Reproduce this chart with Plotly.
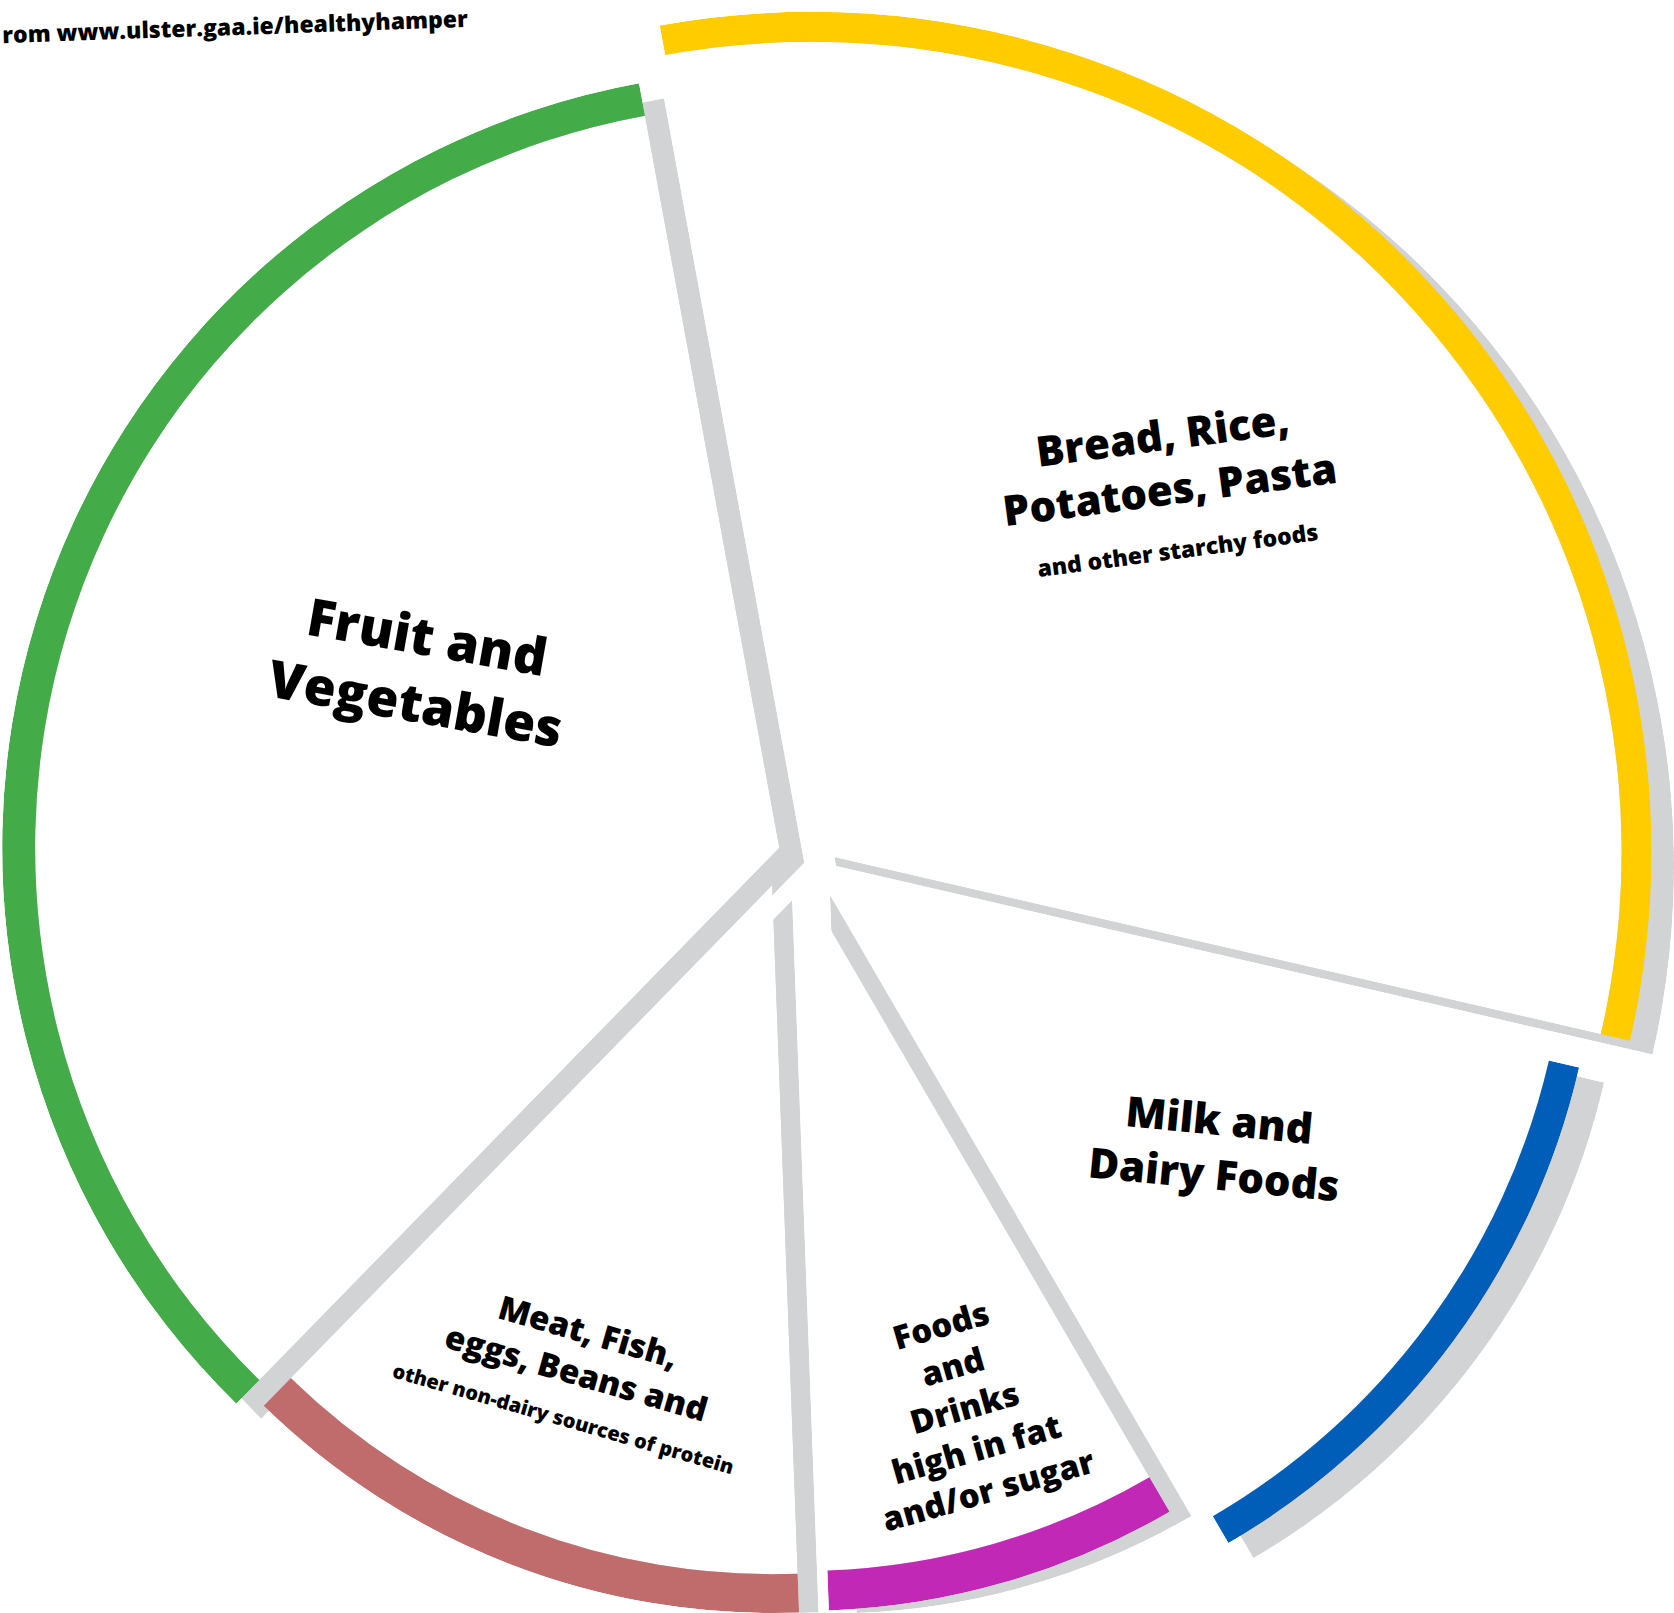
import math
import numpy as np
import plotly.graph_objects as go

W, H = 1674, 1613
S = 1674 / 1568  # preview pixels -> page pixels

# ---------------- data ----------------
# share of the plate for each food group, clockwise from 12 o'clock
food_groups = ["Bread, rice, potatoes, pasta", "Milk and dairy foods",
               "Foods and drinks high in fat and/or sugar",
               "Meat, fish, eggs, beans", "Fruit and vegetables"]
plate_share = [31.5, 13.0, 7.8, 12.9, 34.8]
label_main = ["Bread, Rice,<br>Potatoes, Pasta",
              "Milk and<br>Dairy Foods",
              "Foods<br>and<br>Drinks<br>high in fat<br>and/or sugar",
              "Meat, Fish,<br>eggs, Beans and",
              "Fruit and<br>Vegetables"]
label_small = ["and other starchy foods", "", "",
               "other non-dairy sources of protein", ""]
source_text = "rom www.ulster.gaa.ie/healthyhamper"

# ---------------- styling / layout ----------------
ring_colors = ["#FFCC00", "#005EB8", "#C128B5", "#C06C6C", "#43AC49"]
shadow_color = "#D1D3D4"
start_bearing = 349.6
piece_center = [(760, 798), (800, 843), (751, 824), (724, 829), (730, 794)]  # preview px
piece_radius = [787, 697, 685, 684, 728]                                     # preview px
ring_width = [30, 31, 40, 39, 33]                                            # page px
shadow_shift = (25, 15)                                                      # page px

label_pos = [(1095, 455), (1140, 1073), (903, 1318), (540, 1284), (395, 626)]  # preview px
label_angle = [-7.5, 5.5, -16, 16, 10]
label_size = [42, 42, 33, 33, 52]
small_size = [23, 0, 0, 20, 0]
FONT = "Open Sans"


def sector_bbox(sector):
    s0, s1 = sector
    arc = s1 - s0
    a0 = s0 % 360
    a1 = a0 + arc
    ax0, ay0 = math.cos(math.radians(a0)), math.sin(math.radians(a0))
    ax1, ay1 = math.cos(math.radians(a1)), math.sin(math.radians(a1))
    if (a0 <= 90 and a1 >= 90) or (a0 > 90 and a1 >= 450):
        y1 = 1
    elif ay0 <= 0 and ay1 <= 0:
        y1 = 0
    else:
        y1 = max(ay0, ay1)
    if (a0 <= 180 and a1 >= 180) or (a0 > 180 and a1 >= 540):
        x0 = -1
    elif ax0 >= 0 and ax1 >= 0:
        x0 = 0
    else:
        x0 = min(ax0, ax1)
    if (a0 <= 270 and a1 >= 270) or (a0 > 270 and a1 >= 630):
        y0 = -1
    elif ay0 >= 0 and ay1 >= 0:
        y0 = 0
    else:
        y0 = min(ay0, ay1)
    if a1 >= 360:
        x1 = 1
    elif ax0 <= 0 and ax1 <= 0:
        x1 = 0
    else:
        x1 = max(ax0, ax1)
    return x0, y0, x1, y1


def polar_layout(cx, cy, R, sector):
    bx0, by0, bx1, by1 = sector_bbox(sector)
    x0 = (cx + R * bx0) / W
    x1 = (cx + R * bx1) / W
    ytop = cy - R * by1
    ybot = cy - R * by0
    y0 = 1 - ybot / H
    y1 = 1 - ytop / H
    clamp = lambda v: min(1.0, max(0.0, v))
    return dict(
        domain=dict(x=[clamp(x0), clamp(x1)], y=[clamp(y0), clamp(y1)]),
        sector=list(sector),
        bgcolor="rgba(0,0,0,0)",
        barmode="overlay",
        radialaxis=dict(visible=False, range=[0, R], showgrid=False,
                        showline=False, showticklabels=False, ticks=""),
        angularaxis=dict(visible=False, rotation=90, direction="clockwise",
                         showgrid=False, showline=False, showticklabels=False,
                         ticks=""),
    )


shares = np.array(plate_share, dtype=float)
span = shares / shares.sum() * 360.0
b_start = start_bearing + np.concatenate([[0], np.cumsum(span)[:-1]])
b_mid = b_start + span / 2
n = len(shares)

fig = go.Figure()
layout_polars = {}

# shadows first (polar1..polar5), then the plate pieces (polar6..polar10)
for layer in ("shadow", "piece"):
    for i in range(n):
        k = i + 1 if layer == "shadow" else n + i + 1
        name = "polar" if k == 1 else f"polar{k}"
        cx, cy = piece_center[i][0] * S, piece_center[i][1] * S
        R = piece_radius[i] * S
        if layer == "shadow":
            cx += shadow_shift[0]
            cy += shadow_shift[1]
        b_end = b_start[i] + span[i]
        s0 = (90.0 - b_end) % 360.0
        sector = (s0, s0 + span[i])
        layout_polars[name] = polar_layout(cx, cy, R, sector)
        if layer == "shadow":
            fig.add_trace(go.Barpolar(
                r=[R], base=[0], theta=[b_mid[i]], width=[span[i]],
                marker=dict(color=shadow_color, line=dict(width=0)),
                subplot=name, hoverinfo="skip", name=food_groups[i]))
        else:
            t = ring_width[i]
            fig.add_trace(go.Barpolar(
                r=[R - t, t], base=[0, R - t], theta=[b_mid[i], b_mid[i]],
                width=[span[i], span[i]],
                marker=dict(color=["#FFFFFF", ring_colors[i]], line=dict(width=0)),
                subplot=name, hovertext=[food_groups[i]] * 2, name=food_groups[i]))

annotations = []
for i in range(n):
    txt = label_main[i]
    if label_small[i]:
        txt += f"<br><span style='font-size:{small_size[i]}px'>{label_small[i]}</span>"
    annotations.append(dict(
        text=txt, x=label_pos[i][0] * S / W, y=1 - label_pos[i][1] * S / H,
        xref="paper", yref="paper", xanchor="center", yanchor="middle",
        textangle=label_angle[i], showarrow=False, align="center",
        font=dict(family=FONT, size=label_size[i], color="#000000", weight=800)))

annotations.append(dict(
    text=source_text, x=0, y=1 - 26 / H, xref="paper", yref="paper",
    xanchor="left", yanchor="middle", textangle=-2, showarrow=False,
    font=dict(family=FONT, size=23, color="#000000", weight=800)))

fig.update_layout(
    width=W, height=H, margin=dict(l=0, r=0, t=0, b=0),
    paper_bgcolor="#FFFFFF", plot_bgcolor="#FFFFFF", showlegend=False,
    annotations=annotations, **layout_polars)

fig.write_html("out.html")
